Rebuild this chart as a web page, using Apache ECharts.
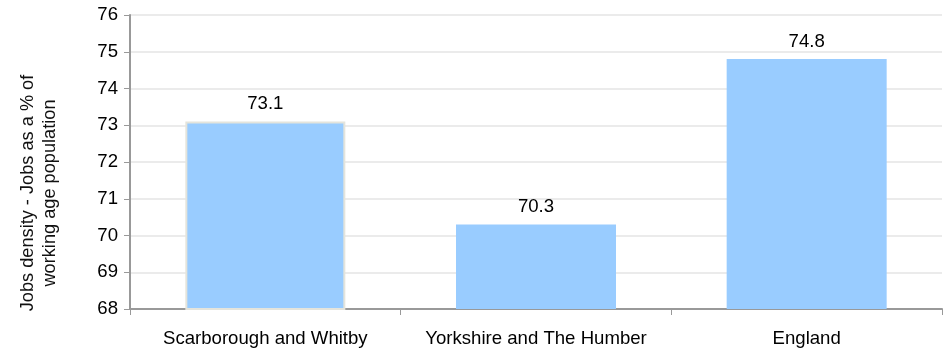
<!DOCTYPE html>
<html><head><meta charset="utf-8">
<script src="https://cdn.jsdelivr.net/npm/echarts@6/dist/echarts.min.js"></script>
<style>html,body{margin:0;padding:0;background:#fff}#c{width:947px;height:350px}</style>
</head><body><div id="c"></div>
<script>
const categories = ["Scarborough and Whitby", "Yorkshire and The Humber", "England"];
const values = [73.1, 70.3, 74.8];
const yName = "Jobs density - Jobs as a % of\nworking age population";

const chart = echarts.init(document.getElementById('c'), null, {renderer: 'canvas'});
const font = 'Liberation Sans, Arial, sans-serif';
const fs = 18.6;
chart.setOption({
  animation: false,
  grid: {left: 130, right: 5, top: 15, bottom: 41, containLabel: false},
  xAxis: {
    type: 'category', data: categories,
    axisLine: {lineStyle: {color: '#999', width: 2}},
    axisTick: {show: true, length: 6, lineStyle: {color: '#999'}},
    axisLabel: {color: '#000', fontSize: fs, fontFamily: font, margin: 20, interval: 0, hideOverlap: false}
  },
  yAxis: {
    type: 'value', min: 68, max: 76, interval: 1,
    name: yName, nameLocation: 'middle', nameGap: 69, nameRotate: 90,
    nameTextStyle: {color: '#111', fontSize: 18.2, fontFamily: font, lineHeight: 22, padding: [0, 62, 0, 0]},
    axisLine: {show: true, lineStyle: {color: '#999', width: 2}},
    axisTick: {show: true, length: 6, lineStyle: {color: '#999'}},
    axisLabel: {color: '#000', fontSize: fs, fontFamily: font, margin: 12},
    splitLine: {lineStyle: {color: '#ebebeb', width: 2}}
  },
  series: [{
    type: 'bar', data: values.map((v, i) => i === 0 ? {value: v, itemStyle: {borderColor: '#e4e4dc', borderWidth: 2}} : v),
    barWidth: 160,
    itemStyle: {color: '#99ccff'},
    label: {show: true, position: 'top', distance: 8, color: '#000', fontSize: fs, fontFamily: font, formatter: p => p.value.toFixed(1)}
  }]
});
</script></body></html>
